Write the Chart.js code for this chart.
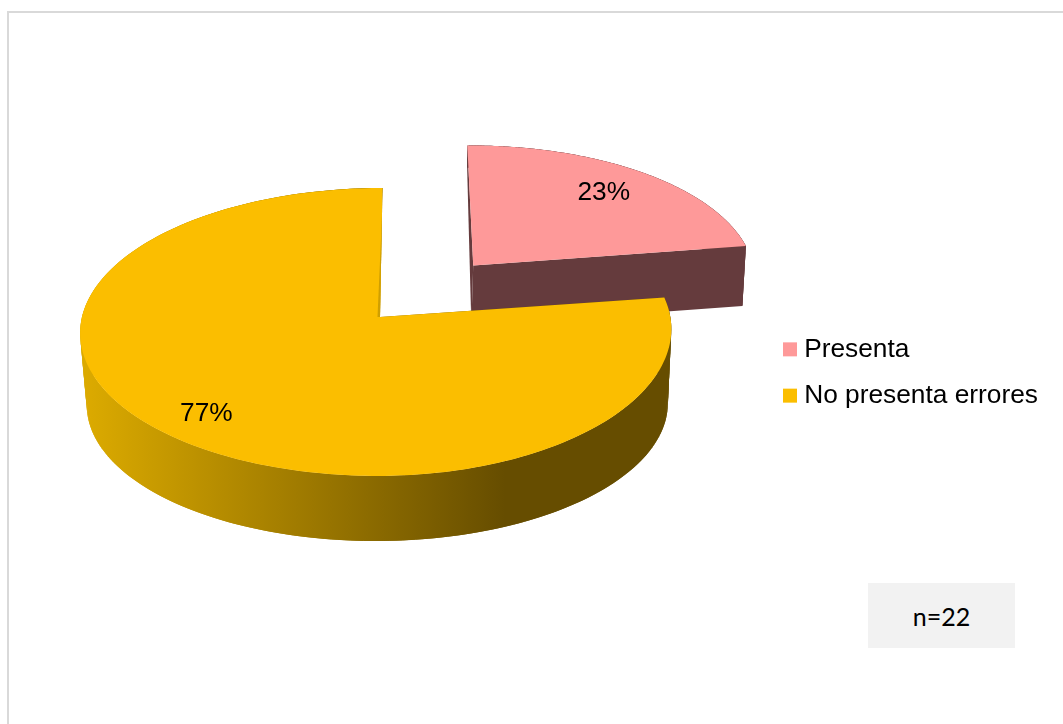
<!DOCTYPE html>
<html lang="es">
<head>
<meta charset="utf-8">
<title>Presenta errores</title>
<script src="https://cdn.jsdelivr.net/npm/chart.js@4/dist/chart.umd.min.js"></script>
<style>
  html,body{margin:0;padding:0;background:#fff;overflow:hidden}
  #wrap{position:relative;width:1063px;height:724px}
  #frame{position:absolute;left:7px;top:11px;right:0;bottom:0;border-left:2px solid #d9d9d9;border-top:2px solid #d9d9d9}
  canvas{position:absolute;left:0;top:0}
  #nbox{position:absolute;left:868px;top:583px;width:147px;height:65px;background:#f2f2f2;color:#000;
    font:25px Lato,sans-serif;display:flex;align-items:center;justify-content:center}
</style>
</head>
<body>
<div id="wrap">
  <div id="frame"></div>
  <canvas id="c-pie" width="1063" height="724"></canvas>
  <div id="nbox">n=22</div>
</div>
<script>
const labels=['Presenta','No presenta errores'];
const values=[23,77];
const explode=[0.5,0];
const topColors=['#fe9999','#fbbe00'];
const wallColors=['#653b3d',null];
const labelNudge=[[-5,3],[-4,6]];

const FONT="'Liberation Sans',Arial,sans-serif";

// perspective of the disc: u,v are in pie radii, v pointing at the viewer
function topFace(u,v){
  const w=1-0.104*v;
  const lift=u>0?1.8*u*u:0;
  return [380+(u<0?298:290)*u/w-2.5*v, 317+142.4*v/w-lift];
}
// the underside sits differently for the pulled-out slice and the main body
function backUnderside(u,v){
  const w=1-0.082*v;
  return [379+285*u/w-2.5*v, 385+158*v];
}
function frontUnderside(u,v){
  const w=1-0.104*v;
  return [377.5+289*u/w-2*v, 389.8+135.5*v/w];
}
const undersides=[backUnderside,frontUnderside];

// unit-disc position of an angle on a slice, including its explosion
function discPoint(el,i,angle,r){
  const mid=(el.startAngle+el.endAngle)/2;
  return [
    r*Math.cos(angle)+explode[i]*Math.cos(mid),
    r*Math.sin(angle)+explode[i]*Math.sin(mid)
  ];
}

function tracePoly(ctx,pts,fill){
  ctx.beginPath();
  pts.forEach((p,k)=>k?ctx.lineTo(p[0],p[1]):ctx.moveTo(p[0],p[1]));
  ctx.closePath();
  ctx.fillStyle=fill;
  ctx.fill();
}

function arcPoints(el,i,face,from,to){
  const pts=[];
  const n=240;
  for(let k=0;k<=n;k++){
    const p=discPoint(el,i,from+(to-from)*k/n,1);
    pts.push(face(p[0],p[1]));
  }
  return pts;
}

function drawSlice(ctx,el,i){
  const s=el.startAngle,e=el.endAngle;
  const apex=discPoint(el,i,s,0);
  const under=undersides[i];
  let wall=wallColors[i];
  if(!wall){
    // side of the large slice darkens towards the right
    wall=ctx.createLinearGradient(87,0,668,0);
    wall.addColorStop(0,'#dbaa00');
    wall.addColorStop(0.72,'#664d00');
    wall.addColorStop(1,'#664d00');
  }
  // outer wall as overlapping quads so the side silhouette stays straight
  const upper=arcPoints(el,i,topFace,s,e);
  const lower=arcPoints(el,i,under,s,e);
  for(let k=0;k<upper.length-1;k++){
    const j=Math.min(k+2,upper.length-1);
    tracePoly(ctx,[upper[k],upper[j],lower[j],lower[k]],wall);
  }
  [s,e].forEach(a=>{
    const o=discPoint(el,i,a,1);
    tracePoly(ctx,[topFace(apex[0],apex[1]),topFace(o[0],o[1]),under(o[0],o[1]),under(apex[0],apex[1])],wall);
  });
  tracePoly(ctx,[topFace(apex[0],apex[1])].concat(upper),topColors[i]);
  if(i===1){
    // thin shaded edge where the body turns back at the notch
    const a=topFace(apex[0],apex[1]);
    const b=upper[upper.length-1];
    const t=0.78;
    tracePoly(ctx,[a,[a[0]-2.5,a[1]],[a[0]+(b[0]-a[0])*t,a[1]+(b[1]-a[1])*t]],'#cf9f00');
  }
}

const pie3d={
  id:'pie3d',
  beforeDatasetsDraw(chart){
    const ctx=chart.ctx;
    const arcs=chart.getDatasetMeta(0).data;
    ctx.save();
    arcs.forEach((el,i)=>drawSlice(ctx,el,i));
    ctx.fillStyle='#000';
    ctx.font='26.3px '+FONT;
    ctx.textAlign='center';
    ctx.textBaseline='middle';
    arcs.forEach((el,i)=>{
      const mid=(el.startAngle+el.endAngle)/2;
      const p=discPoint(el,i,mid,0.8);
      const q=topFace(p[0],p[1]);
      ctx.fillText(values[i]+'%',q[0]+labelNudge[i][0],q[1]+labelNudge[i][1]);
    });
    ctx.restore();
    return false;
  }
};

new Chart(document.getElementById('c-pie'),{
  type:'pie',
  data:{
    labels,
    datasets:[{
      data:values,
      backgroundColor:topColors,
      borderWidth:0
    }]
  },
  options:{
    responsive:false,
    animation:false,
    layout:{padding:{top:21,right:15}},
    plugins:{
      tooltip:{enabled:false},
      legend:{
        position:'right',
        labels:{
          usePointStyle:true,
          pointStyle:'rect',
          boxWidth:2,
          boxHeight:14,
          padding:20,
          color:'#000',
          font:{family:FONT,size:26.3}
        }
      }
    }
  },
  plugins:[pie3d]
});
</script>
</body>
</html>
